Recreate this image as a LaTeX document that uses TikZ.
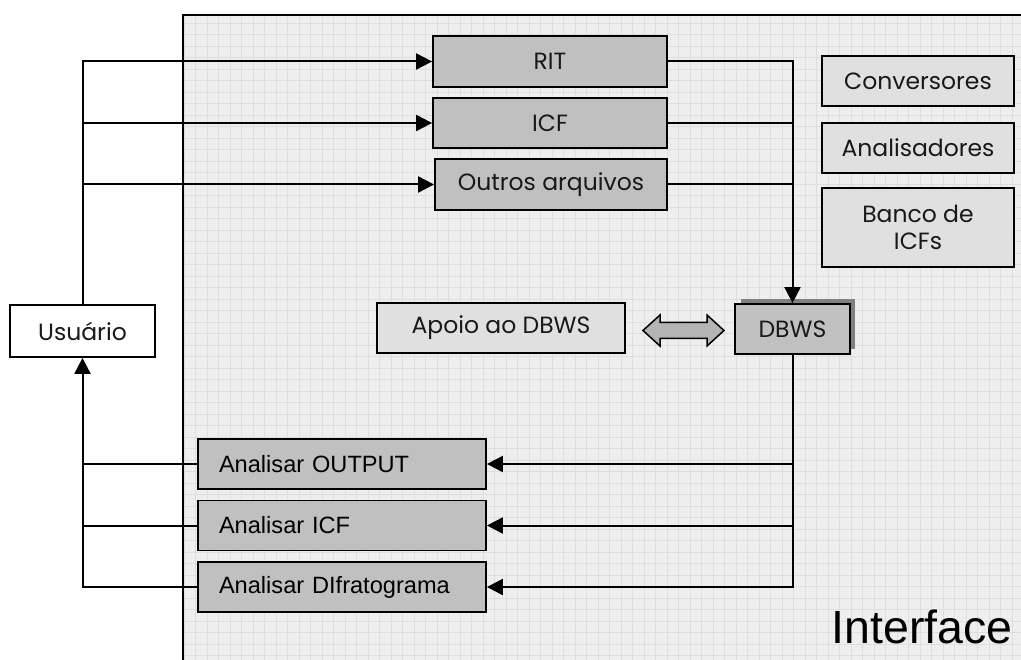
\documentclass[tikz,border=0pt]{standalone}
\usepackage{fontspec}
\setmainfont{Poppins}
\newfontfamily\arialfont{Liberation Sans}
\usetikzlibrary{arrows.meta}
\definecolor{panelbg}{HTML}{EEEEEE}
\definecolor{gridcol}{HTML}{DEDEDE}
\definecolor{darkbox}{HTML}{C0C0C0}
\definecolor{lightbox}{HTML}{E0E0E0}
\definecolor{shadowcol}{HTML}{808080}
\definecolor{fatarrow}{HTML}{B4B4B4}
\tikzset{
  x=1pt, y=-1pt,
  box/.style={draw=black, line width=1.8pt, rectangle, inner sep=0pt,
    font=\fontsize{23.5}{27}\selectfont, text=black!90},
  darkfill/.style={box, fill=darkbox},
  lightfill/.style={box, fill=lightbox},
  analise/.style={darkfill, font=\arialfont\fontsize{23.6}{26}\selectfont,
    text=black, minimum width=288pt, minimum height=50pt,
    text width=246pt, align=left, inner xsep=21pt},
  flow/.style={line width=2pt, draw=black},
  arr/.style={flow, -{Triangle[length=16pt,width=16pt]}},
}
\begin{document}
\begin{tikzpicture}
\useasboundingbox (0,0) rectangle (1021,660);

% panel of the interface with its grid
\fill[panelbg] (183,15) rectangle (1030,670);
\begin{scope}
  \clip (183,15) rectangle (1030,670);
  \draw[gridcol, line width=0.8pt] (183,15) grid[step=11.5pt] (1030,670);
\end{scope}
\draw[line width=1.8pt] (1030,15) -- (183,15) -- (183,670);

% input files
\node[darkfill, minimum width=234pt, minimum height=51pt] (rit) at (550,61.5) {RIT};
\node[darkfill, minimum width=234pt, minimum height=50pt] (icf) at (550,123) {ICF};
\node[darkfill, minimum width=232pt, minimum height=51pt] (outros) at (551,184.5) {Outros arquivos};

% tools
\node[lightfill, minimum width=192pt, minimum height=50pt] (conv) at (918,81) {Conversores};
\node[lightfill, minimum width=192pt, minimum height=50pt] (anal) at (918,148) {Analisadores};
\node[lightfill, minimum width=192pt, minimum height=79pt, align=center] (banco) at (918,227.5) {Banco de\\ICFs};

% user
\node[box, fill=white, minimum width=145pt, minimum height=52pt] (usu) at (82.5,331) {Usuário};

% DBWS and its support
\fill[shadowcol] (741,299) rectangle (855,349);
\node[darkfill, minimum width=115pt, minimum height=50pt] (dbws) at (792.5,329) {DBWS};
\node[lightfill, minimum width=248pt, minimum height=50pt] (apoio) at (501,328) {Apoio ao DBWS};
\draw[line width=1.5pt, fill=fatarrow]
  (643,330.5) -- (660,315) -- (660,322.5) -- (707,322.5) -- (707,315) -- (724,330.5)
  -- (707,346) -- (707,338.5) -- (660,338.5) -- (660,346) -- cycle;

% analysis steps
\node[analise] (aout) at (342,464) {Analisar OUTPUT};
\node[analise] (aicf) at (342,525.5) {Analisar ICF};
\node[analise] (adif) at (342,587) {Analisar DIfratograma};

\node[anchor=base east, font=\arialfont\fontsize{46.5}{50}\selectfont, inner sep=0pt]
  (iface) at (1013,643) {Interface};

% user to input files
\draw[arr] (usu.north) |- (rit.west);
\draw[arr] (usu.north) |- (icf.west);
\draw[arr] (usu.north) |- (outros.west);

% input files into DBWS
\draw[arr] (rit.east) -| (dbws.north);
\draw[flow] (icf.east) -- (icf.east -| dbws.north);
\draw[flow] (outros.east) -- (outros.east -| dbws.north);

% DBWS to analysis steps
\draw[arr] (dbws.south) |- (aout.east);
\draw[arr] (dbws.south) |- (aicf.east);
\draw[arr] (dbws.south) |- (adif.east);

% analysis steps back to the user
\draw[arr] (adif.west) -| (usu.south);
\draw[flow] (aout.west) -- (aout.west -| usu.south);
\draw[flow] (aicf.west) -- (aicf.west -| usu.south);
\end{tikzpicture}
\end{document}
